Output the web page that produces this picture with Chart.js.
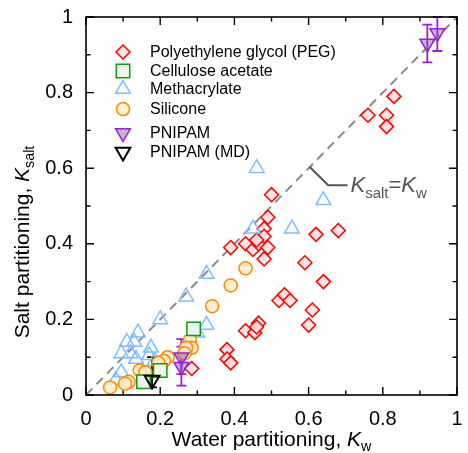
<!DOCTYPE html>
<html>
<head>
<meta charset="utf-8">
<script src="https://cdn.jsdelivr.net/npm/chart.js@4.4.0/dist/chart.umd.min.js"></script>
<style>
  html, body { margin: 0; padding: 0; background: #fff; }
</style>
</head>
<body>
<canvas id="myChart" width="468" height="453"></canvas>
<script>
// values
const pegX = [0.83, 0.76, 0.81, 0.81, 0.50, 0.49, 0.48, 0.68, 0.62, 0.39, 0.43, 0.45, 0.465, 0.48, 0.49, 0.48, 0.46,
              0.59, 0.64, 0.52, 0.535, 0.55, 0.61, 0.60, 0.43, 0.455, 0.465, 0.46, 0.38, 0.38, 0.39, 0.285];
const pegY = [0.79, 0.74, 0.74, 0.71, 0.53, 0.47, 0.44, 0.435, 0.425, 0.39, 0.40, 0.385, 0.40, 0.42, 0.39, 0.36, 0.41,
              0.35, 0.30, 0.25, 0.265, 0.25, 0.225, 0.185, 0.17, 0.165, 0.19, 0.18, 0.12, 0.095, 0.085, 0.07];

const caX = [0.29, 0.20, 0.155];
const caY = [0.175, 0.065, 0.035];

const methX = [0.46, 0.64, 0.45, 0.555, 0.325, 0.27, 0.20, 0.325, 0.30,
               0.14, 0.11, 0.13, 0.095, 0.12, 0.135, 0.175, 0.17, 0.185, 0.095, 0.08];
const methY = [0.60, 0.515, 0.44, 0.44, 0.32, 0.26, 0.20, 0.185, 0.165,
               0.165, 0.14, 0.14, 0.11, 0.11, 0.095, 0.125, 0.105, 0.09, 0.06, 0.04];

const silX = [0.43, 0.39, 0.34, 0.28, 0.285, 0.27, 0.265, 0.22, 0.21, 0.195, 0.145, 0.16, 0.115, 0.105, 0.065];
const silY = [0.335, 0.29, 0.235, 0.145, 0.125, 0.125, 0.11, 0.10, 0.09, 0.085, 0.065, 0.06, 0.035, 0.03, 0.02];

const pniX = [0.92, 0.947, 0.257, 0.257];
const pniY = [0.93, 0.958, 0.10, 0.075];
const pniLo = [0.88, 0.91, 0.055, 0.025];
const pniHi = [0.98, 1.00, 0.148, 0.128];

const mdX = [0.178];
const mdY = [0.04];
const mdLo = [0.02];
const mdHi = [0.10];

const diagX = [0, 1];
const diagY = [0, 1];

const tickVals = [0, 0.2, 0.4, 0.6, 0.8, 1];
const tickLabels = ['0', '0.2', '0.4', '0.6', '0.8', '1'];

const FONT = '"Liberation Sans", Arial, Helvetica, sans-serif';

function pts(xs, ys) {
  return xs.map((v, i) => ({ x: v, y: ys[i] }));
}
function tickLabel(v) {
  const i = tickVals.findIndex(t => Math.abs(t - v) < 1e-6);
  return i >= 0 ? tickLabels[i] : '';
}

// text with italic / subscript parts
function richWidth(ctx, parts, size) {
  let w = 0;
  parts.forEach(p => {
    const s = p.sub ? size * 0.68 : size;
    ctx.font = (p.it ? 'italic ' : '') + s + 'px ' + FONT;
    w += ctx.measureText(p.t).width;
  });
  return w;
}
function richText(ctx, parts, x, y, size) {
  ctx.textBaseline = 'alphabetic';
  ctx.textAlign = 'left';
  parts.forEach(p => {
    const s = p.sub ? size * 0.68 : size;
    ctx.font = (p.it ? 'italic ' : '') + s + 'px ' + FONT;
    ctx.fillText(p.t, x, p.sub ? y + size * 0.26 : y);
    x += ctx.measureText(p.t).width;
  });
}

const datasets = [
  { label: 'PNIPAM (MD)', data: pts(mdX, mdY), lo: mdLo, hi: mdHi,
    pointStyle: 'triangle', rotation: 180, radius: 8.5, borderWidth: 2,
    borderColor: '#000', backgroundColor: 'rgba(255,255,255,0)' },
  { label: 'PNIPAM', data: pts(pniX, pniY), lo: pniLo, hi: pniHi,
    pointStyle: 'triangle', rotation: 180, radius: 8.5, borderWidth: 1.5,
    borderColor: '#9b1fd6', backgroundColor: 'rgba(130,80,170,0.45)' },
  { label: 'Cellulose acetate', data: pts(caX, caY),
    pointStyle: 'rect', radius: 9.5, borderWidth: 1.5,
    borderColor: '#119911', backgroundColor: '#ebf5eb' },
  { label: 'Silicone', data: pts(silX, silY),
    pointStyle: 'circle', radius: 6.5, borderWidth: 1.5,
    borderColor: '#ff8a00', backgroundColor: 'rgba(255,235,200,0.85)' },
  { label: 'Methacrylate', data: pts(methX, methY),
    pointStyle: 'triangle', radius: 8.5, borderWidth: 1.5,
    borderColor: '#7fbfff', backgroundColor: 'rgba(255,255,255,0)' },
  { label: 'Polyethylene glycol (PEG)', data: pts(pegX, pegY),
    pointStyle: 'rectRot', radius: 7, borderWidth: 1.5,
    borderColor: '#ff0000', backgroundColor: 'rgba(253,225,225,0.9)' },
  { label: 'diag', data: pts(diagX, diagY), showLine: true,
    borderColor: '#8a8a8a', borderWidth: 2, borderDash: [9, 6], pointRadius: 0 }
];
datasets.forEach(d => { d.pointRadius = d.pointRadius === undefined ? d.radius : d.pointRadius; });

const legendOrder = ['Polyethylene glycol (PEG)', 'Cellulose acetate', 'Methacrylate', 'Silicone', 'PNIPAM', 'PNIPAM (MD)'];
const legendRows = [52, 71, 89, 109, 133, 152];

const errorBars = {
  id: 'errorBars',
  beforeDatasetsDraw(chart) {
    const ctx = chart.ctx, xs = chart.scales.x, ys = chart.scales.y;
    chart.data.datasets.forEach(d => {
      if (!d.lo) return;
      ctx.save();
      ctx.strokeStyle = d.borderColor;
      ctx.lineWidth = 1.8;
      d.data.forEach((p, i) => {
        const px = xs.getPixelForValue(p.x);
        const y1 = ys.getPixelForValue(d.lo[i]);
        const y2 = ys.getPixelForValue(d.hi[i]);
        ctx.beginPath();
        ctx.moveTo(px, y1); ctx.lineTo(px, y2);
        ctx.moveTo(px - 5, y1); ctx.lineTo(px + 5, y1);
        ctx.moveTo(px - 5, y2); ctx.lineTo(px + 5, y2);
        ctx.stroke();
      });
      ctx.restore();
    });
  }
};

const frameAndText = {
  id: 'frameAndText',
  afterDraw(chart) {
    const ctx = chart.ctx, a = chart.chartArea, xs = chart.scales.x, ys = chart.scales.y;
    ctx.save();
    // frame
    ctx.strokeStyle = '#000';
    ctx.lineWidth = 1.6;
    ctx.strokeRect(a.left, a.top, a.right - a.left, a.bottom - a.top);
    // inward ticks on all sides
    ctx.lineWidth = 1.4;
    ctx.beginPath();
    for (let k = 0; k <= 10; k++) {
      const v = k / 10, len = k % 2 === 0 ? 8 : 4.5;
      const px = xs.getPixelForValue(v), py = ys.getPixelForValue(v);
      ctx.moveTo(px, a.bottom); ctx.lineTo(px, a.bottom - len);
      ctx.moveTo(px, a.top); ctx.lineTo(px, a.top + len);
      ctx.moveTo(a.left, py); ctx.lineTo(a.left + len, py);
      ctx.moveTo(a.right, py); ctx.lineTo(a.right - len, py);
    }
    ctx.stroke();

    // legend
    const H = Chart.helpers;
    legendOrder.forEach((name, i) => {
      const d = chart.data.datasets.find(s => s.label === name);
      const y = legendRows[i];
      ctx.fillStyle = d.backgroundColor;
      ctx.strokeStyle = d.borderColor;
      ctx.lineWidth = d.borderWidth;
      H.drawPoint(ctx, { pointStyle: d.pointStyle, rotation: d.rotation || 0, radius: d.radius, borderWidth: d.borderWidth }, 123, y);
      ctx.fillStyle = '#000';
      ctx.font = '16px ' + FONT;
      ctx.textAlign = 'left';
      ctx.textBaseline = 'middle';
      ctx.fillText(name, 150, y + 1);
    });

    // K_salt = K_w leader and label
    const p0x = xs.getPixelForValue(0.603), p0y = ys.getPixelForValue(0.603);
    const p1x = xs.getPixelForValue(0.653), p1y = ys.getPixelForValue(0.555);
    const p2x = xs.getPixelForValue(0.705);
    ctx.strokeStyle = '#555';
    ctx.lineWidth = 2;
    ctx.beginPath();
    ctx.moveTo(p0x, p0y); ctx.lineTo(p1x, p1y); ctx.lineTo(p2x, p1y);
    ctx.stroke();
    ctx.fillStyle = '#555';
    richText(ctx, [{ t: 'K', it: true }, { t: 'salt', sub: true }, { t: '=' }, { t: 'K', it: true }, { t: 'w', sub: true }],
      p2x + 3, p1y + 7, 22);

    // axis titles
    ctx.fillStyle = '#000';
    const xt = [{ t: 'Water partitioning, ' }, { t: 'K', it: true }, { t: 'w', sub: true }];
    const xw = richWidth(ctx, xt, 21);
    richText(ctx, xt, (a.left + a.right) / 2 - xw / 2, 446, 21);

    const yt = [{ t: 'Salt partitioning, ' }, { t: 'K', it: true }, { t: 'salt', sub: true }];
    const yw = richWidth(ctx, yt, 21);
    ctx.translate(29, 242);
    ctx.rotate(-Math.PI / 2);
    richText(ctx, yt, -yw / 2, 0, 21);
    ctx.restore();
  }
};

new Chart(document.getElementById('myChart').getContext('2d'), {
  type: 'scatter',
  data: { datasets: datasets },
  options: {
    responsive: false,
    animation: false,
    events: [],
    layout: { padding: { top: 17, right: 5, left: 0, bottom: 0 } },
    plugins: { legend: { display: false }, tooltip: { enabled: false } },
    scales: {
      x: {
        type: 'linear', min: 0, max: 1,
        grid: { display: false },
        border: { display: false },
        ticks: { stepSize: 0.2, callback: tickLabel, color: '#000', padding: 4, maxRotation: 0,
                 font: { family: FONT, size: 20 } },
        afterFit(s) { s.height = 58; }
      },
      y: {
        type: 'linear', min: 0, max: 1,
        grid: { display: false },
        border: { display: false },
        ticks: { stepSize: 0.2, callback: tickLabel, color: '#000', padding: 5,
                 font: { family: FONT, size: 20 } },
        afterFit(s) { s.height = s.height; s.width = 86; }
      }
    }
  },
  plugins: [errorBars, frameAndText]
});
</script>
</body>
</html>
